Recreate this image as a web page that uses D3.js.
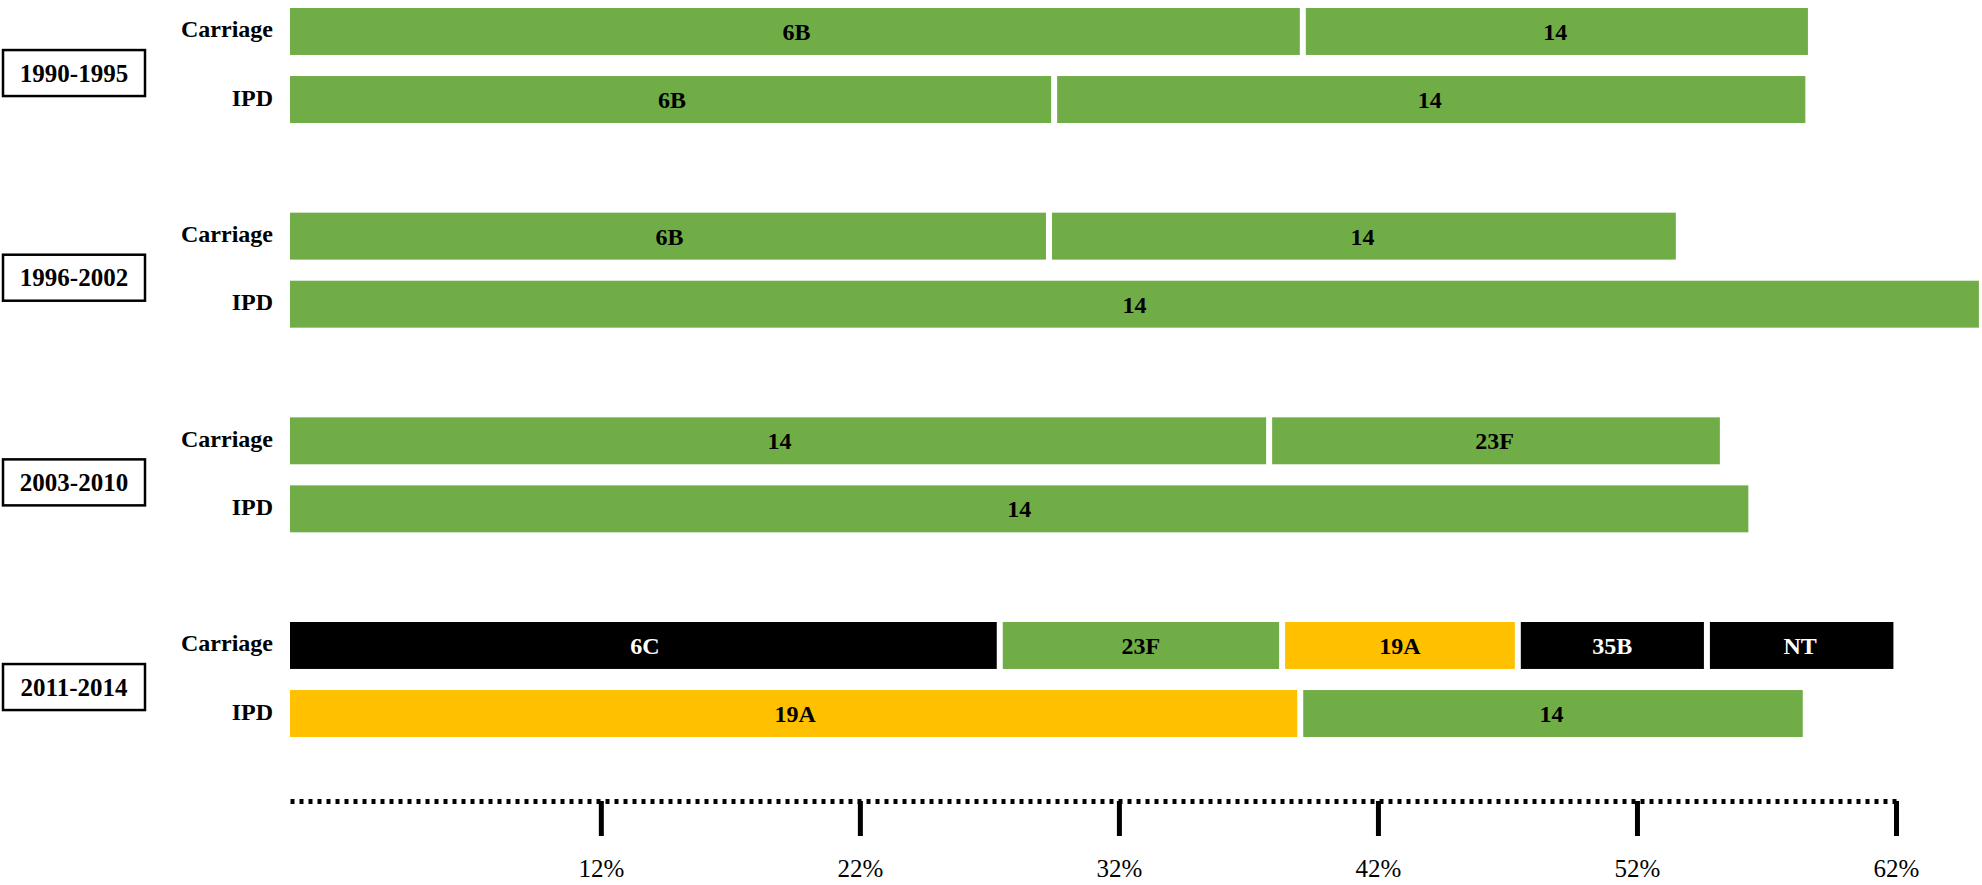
<!DOCTYPE html>
<html>
<head>
<meta charset="utf-8">
<script src="https://cdn.jsdelivr.net/npm/d3@7/dist/d3.min.js"></script>
<style>
  body { margin: 0; background: #fff; }
  svg { display: block; font-family: "Liberation Serif", "Times New Roman", serif; }
</style>
</head>
<body>
<svg id="chart" width="1982" height="885"></svg>
<script>
var periods = ["1990-1995", "1996-2002", "2003-2010", "2011-2014"];
var sources = ["Carriage", "IPD"];

// serotype shares (%) per period, left to right
var carriageSerotypes = [["6B", "14"], ["6B", "14"], ["14", "23F"], ["6C", "23F", "19A", "35B", "NT"]];
var carriageValues    = [[39.1, 19.5], [29.3, 24.2], [37.8, 17.4], [27.4, 10.9, 9.1, 7.3, 7.2]];
var ipdSerotypes      = [["6B", "14"], ["14"], ["14"], ["19A", "14"]];
var ipdValues         = [[29.5, 29.0], [65.2], [56.3], [39.0, 19.4]];

var pcv7Types  = ["6B", "14", "23F"];
var pcv13Types = ["19A"];

var tickValues = [12, 22, 32, 42, 52, 62];

var svg = d3.select("#chart");

var x = d3.scaleLinear().domain([0, 62]).range([290, 1896]);
var yGroup = d3.scalePoint().domain(periods).range([8, 622]);
var yRow = d3.scaleBand().domain(sources).range([0, 115]).paddingInner(0.31);

var color = d3.scaleOrdinal()
    .domain(["PCV7", "PCV13", "other"])
    .range(["#70ad47", "#ffc000", "#000000"]);

function groupOf(s) {
  if (pcv7Types.indexOf(s) >= 0) return "PCV7";
  if (pcv13Types.indexOf(s) >= 0) return "PCV13";
  return "other";
}

// flatten into segments
var segments = [];
periods.forEach(function(p, i) {
  [[carriageSerotypes[i], carriageValues[i], "Carriage"],
   [ipdSerotypes[i], ipdValues[i], "IPD"]].forEach(function(r) {
    var ends = d3.cumsum(r[1]);
    r[0].forEach(function(s, j) {
      segments.push({
        period: p, source: r[2], serotype: s,
        x0: j === 0 ? 0 : ends[j - 1], x1: ends[j],
        first: j === 0, last: j === r[0].length - 1
      });
    });
  });
});

var gap = 3;

var seg = svg.append("g").selectAll("g")
  .data(segments)
  .enter().append("g");

seg.append("rect")
    .attr("x", function(d) { return x(d.x0) + (d.first ? 0 : gap); })
    .attr("y", function(d) { return yGroup(d.period) + yRow(d.source); })
    .attr("width", function(d) { return x(d.x1) - x(d.x0) - (d.first ? 0 : gap) - (d.last ? 0 : gap); })
    .attr("height", yRow.bandwidth())
    .attr("fill", function(d) { return color(groupOf(d.serotype)); });

seg.append("text")
    .attr("x", function(d) { return (x(d.x0) + x(d.x1)) / 2; })
    .attr("y", function(d) { return yGroup(d.period) + yRow(d.source) + yRow.bandwidth() / 2; })
    .attr("dy", "0.35em")
    .attr("text-anchor", "middle")
    .style("font-size", "24px")
    .style("font-weight", "bold")
    .style("fill", function(d) { return groupOf(d.serotype) === "other" ? "#fff" : "#000"; })
    .text(function(d) { return d.serotype; });

// row labels
var rows = [];
periods.forEach(function(p) { sources.forEach(function(s) { rows.push({period: p, source: s}); }); });

svg.append("g").selectAll("text")
  .data(rows)
  .enter().append("text")
    .attr("x", 273)
    .attr("y", function(d) { return yGroup(d.period) + yRow(d.source) + yRow.bandwidth() / 2; })
    .attr("dy", "0.25em")
    .attr("text-anchor", "end")
    .style("font-size", "24px")
    .style("font-weight", "bold")
    .text(function(d) { return d.source; });

// period boxes
var box = svg.append("g").selectAll("g")
  .data(periods)
  .enter().append("g")
    .attr("transform", function(d) { return "translate(3," + (yGroup(d) + yRow("IPD") - 3) + ")"; });

box.append("rect")
    .attr("x", 0)
    .attr("y", -23)
    .attr("width", 142)
    .attr("height", 46)
    .attr("fill", "#fff")
    .attr("stroke", "#000")
    .attr("stroke-width", 2.5);

box.append("text")
    .attr("x", 71)
    .attr("dy", "0.35em")
    .attr("text-anchor", "middle")
    .style("font-size", "25px")
    .style("font-weight", "bold")
    .text(function(d) { return d; });

// dotted axis
var axis = svg.append("g")
    .attr("transform", "translate(0,801)")
    .call(d3.axisBottom(x)
      .tickValues(tickValues)
      .tickSize(35)
      .tickSizeOuter(0)
      .tickPadding(23)
      .tickFormat(function(d) { return d + "%"; }));

axis.select(".domain")
    .attr("stroke", "#000")
    .attr("stroke-width", 5)
    .attr("stroke-dasharray", "4,5");

axis.selectAll(".tick line")
    .attr("stroke", "#000")
    .attr("stroke-width", 5);

axis.selectAll(".tick text")
    .attr("fill", "#000")
    .style("font-size", "25px")
    .style("font-family", "'Liberation Serif', 'Times New Roman', serif");
</script>
</body>
</html>
